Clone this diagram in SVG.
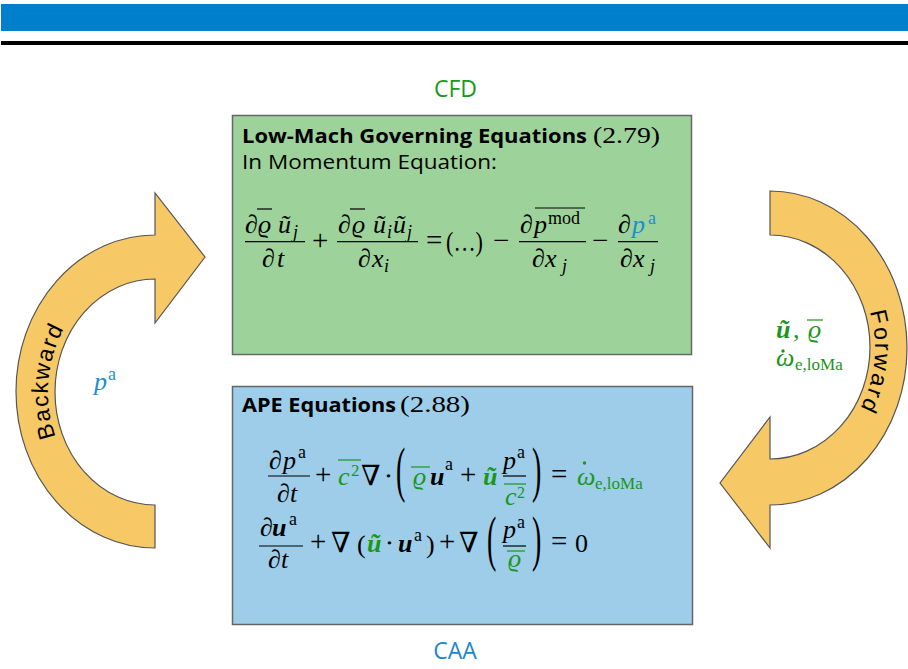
<svg xmlns="http://www.w3.org/2000/svg" width="908" height="669" viewBox="0 0 908 669">
<defs>
<style>
.t{font-family:"Open Sans","Noto Sans",sans-serif;font-size:20px;fill:#000;}
.tb{font-weight:bold;}
.m{font-family:"Liberation Serif","DejaVu Serif",serif;font-style:italic;font-size:26px;fill:#000;}
.rm{font-style:normal;}
.op{font-style:normal;font-size:29px;}
.bi{font-weight:bold;}
.s{font-size:18px;}
.ss{font-size:17px;}
.g{fill:#1A961A;}
.bl{fill:#1B8DD2;}
.bar{stroke:#000;stroke-width:1.2;}
.gbar{stroke:#1A961A;stroke-width:1.2;}
.dot{fill:#1A961A;}
.arr{fill:#F7C866;stroke:#555;stroke-width:1.2;}
.lbl{font-family:"Liberation Sans",Arial,sans-serif;font-size:23px;fill:#000;letter-spacing:1.5px;}
</style>
</defs>

<g id="header">
<rect x="1" y="4" width="907" height="27" fill="#0080CC"/>
<rect x="1" y="41" width="907" height="4" fill="#000"/>
</g>

<g id="cfd-label">
<text class="t" x="455.5" y="97" text-anchor="middle" style="font-size:23px;fill:#1A9A1A">CFD</text>
</g>
<g id="caa-label">
<text class="t" x="455" y="659" text-anchor="middle" style="font-size:23px;fill:#1A88D0">CAA</text>
</g>

<g id="cfd-box">
<rect x="232.5" y="115.5" width="459" height="239" fill="#9DD39B" stroke="#666" stroke-width="1.5"/>
<text class="t tb" x="242" y="143" textLength="345" lengthAdjust="spacingAndGlyphs">Low-Mach Governing Equations</text>
<text class="m rm" x="593" y="143" style="font-size:24px" textLength="67" lengthAdjust="spacingAndGlyphs">(2.79)</text>
<text class="t" x="242" y="169" textLength="255" lengthAdjust="spacingAndGlyphs">In Momentum Equation:</text>
<!-- frac 1 -->
<text class="m" x="245" y="233">∂</text>
<text class="m" x="258" y="233">ϱ</text>
<line class="bar" x1="257" y1="209" x2="272" y2="209"/>
<text class="m" x="278" y="233">ũ</text>
<text class="m s" x="293" y="238">j</text>
<line class="bar" x1="245" y1="241.7" x2="305" y2="241.7"/>
<text class="m" x="262" y="267">∂</text>
<text class="m" x="277" y="267">t</text>
<text class="m op" x="312" y="250">+</text>
<!-- frac 2 -->
<text class="m" x="338" y="233">∂</text>
<text class="m" x="352" y="233">ϱ</text>
<line class="bar" x1="350" y1="209" x2="365" y2="209"/>
<text class="m" x="373" y="233">ũ</text>
<text class="m s" x="387" y="238">i</text>
<text class="m" x="393" y="233">ũ</text>
<text class="m s" x="407" y="238">j</text>
<line class="bar" x1="337" y1="241.7" x2="418" y2="241.7"/>
<text class="m" x="358" y="267">∂</text>
<text class="m" x="372" y="267">x</text>
<text class="m s" x="384" y="272">i</text>
<text class="m op" x="426" y="250">=</text>
<text class="m rm" x="446" y="251" style="font-size:28px" textLength="37" lengthAdjust="spacingAndGlyphs">(…)</text>
<text class="m op" x="493" y="250">−</text>
<!-- frac 3 -->
<text class="m" x="520" y="233">∂</text>
<text class="m" x="534" y="233">p</text>
<text class="m rm s" x="548" y="224">mod</text>
<line class="bar" x1="535" y1="208" x2="585" y2="208"/>
<line class="bar" x1="519" y1="241.7" x2="586" y2="241.7"/>
<text class="m" x="532" y="267">∂</text>
<text class="m" x="545" y="267">x</text>
<text class="m s" x="562" y="272">j</text>
<text class="m op" x="592" y="250">−</text>
<!-- frac 4 -->
<text class="m" x="618" y="233">∂</text>
<text class="m bl" x="632" y="233">p</text>
<text class="m rm s bl" x="648" y="224">a</text>
<line class="bar" x1="618" y1="241.7" x2="658" y2="241.7"/>
<text class="m" x="620" y="267">∂</text>
<text class="m" x="633" y="267">x</text>
<text class="m s" x="650" y="272">j</text>
</g>

<g id="caa-box">
<rect x="232.5" y="386.5" width="460" height="238" fill="#9DCDE9" stroke="#666" stroke-width="1.5"/>
<text class="t tb" x="242" y="412" textLength="154" lengthAdjust="spacingAndGlyphs">APE Equations</text>
<text class="m rm" x="400" y="412" style="font-size:24px" textLength="70" lengthAdjust="spacingAndGlyphs">(2.88)</text>
<!-- eq 1 -->
<text class="m" x="269" y="469">∂</text>
<text class="m" x="283" y="469">p</text>
<text class="m rm s" x="298" y="458">a</text>
<line class="bar" x1="268" y1="476" x2="310" y2="476"/>
<text class="m" x="277" y="502">∂</text>
<text class="m" x="290" y="502">t</text>
<text class="m op" x="315" y="484">+</text>
<text class="m g" x="338" y="485">c</text>
<text class="m rm g" x="351" y="476" style="font-size:17px">2</text>
<line class="gbar" x1="338" y1="460" x2="361" y2="460"/>
<text class="m rm" x="361" y="485" style="font-size:28px">∇</text>
<text class="m rm" x="384" y="485">⋅</text>
<text class="m rm" transform="translate(396,490) scale(1,2.2)" style="font-size:28px">(</text>
<text class="m g" x="413" y="485">ϱ</text>
<line class="gbar" x1="411" y1="467" x2="430" y2="467"/>
<text class="m bi" x="430" y="485">u</text>
<text class="m rm s" x="445" y="470">a</text>
<text class="m op" x="460" y="484">+</text>
<text class="m bi g" x="483" y="485">ũ</text>
<text class="m" x="503" y="469">p</text>
<text class="m rm s" x="517" y="458">a</text>
<line class="bar" x1="503" y1="476" x2="526" y2="476"/>
<text class="m g" x="505" y="505">c</text>
<text class="m rm g" x="517" y="498" style="font-size:16px">2</text>
<line class="gbar" x1="504" y1="484" x2="526" y2="484"/>
<text class="m rm" transform="translate(532,490) scale(1,2.2)" style="font-size:28px">)</text>
<text class="m op" x="551" y="484">=</text>
<text class="m g" x="577" y="485">ω</text>
<circle class="dot" cx="584.5" cy="463" r="1.7"/>
<text class="m rm g ss" x="595" y="489">e,loMa</text>
<!-- eq 2 -->
<text class="m" x="260" y="536">∂</text>
<text class="m bi" x="272" y="536">u</text>
<text class="m rm s" x="289" y="525">a</text>
<line class="bar" x1="259" y1="546" x2="303" y2="546"/>
<text class="m" x="268" y="568">∂</text>
<text class="m" x="281" y="568">t</text>
<text class="m op" x="310" y="551">+</text>
<text class="m rm" x="331" y="552" style="font-size:28px">∇</text>
<text class="m rm" x="357" y="553">(</text>
<text class="m bi g" x="367" y="552">ũ</text>
<text class="m rm" x="385" y="552">⋅</text>
<text class="m bi" x="398" y="552">u</text>
<text class="m rm s" x="414" y="541">a</text>
<text class="m rm" x="426" y="553">)</text>
<text class="m op" x="439" y="551">+</text>
<text class="m rm" x="459" y="552" style="font-size:28px">∇</text>
<text class="m rm" transform="translate(487,559) scale(1,2.2)" style="font-size:28px">(</text>
<text class="m" x="503" y="538">p</text>
<text class="m rm s" x="517" y="528">a</text>
<line class="bar" x1="503" y1="546" x2="526" y2="546"/>
<text class="m g" x="508" y="567">ϱ</text>
<line class="gbar" x1="507" y1="551" x2="525" y2="551"/>
<text class="m rm" transform="translate(532,559) scale(1,2.2)" style="font-size:28px">)</text>
<text class="m op" x="551" y="551">=</text>
<text class="m rm" x="575" y="552">0</text>
</g>

<g id="connectors">
<g id="backward-arrow">
<path class="arr" d="M155,548 A139,156.5 0 0 1 155,235 L155,193 L205,257 L155,323 L155,279 A100,113 0 0 0 155,505 Z"/>
<path id="bwpath" d="M155,513 A107,121 0 0 1 155,271" fill="none"/>
<text class="lbl"><textPath href="#bwpath" startOffset="53%" text-anchor="middle">Backward</textPath></text>
<text class="m bl" x="94" y="390">p</text>
<text class="m rm s bl" x="108" y="380">a</text>
</g>
<g id="forward-arrow">
<path class="arr" d="M770,191 A137,157 0 0 1 770,505 L770,548 L720,483 L770,417 L770,459 A100,112 0 0 0 770,235 Z"/>
<path id="fwpath" d="M770,230 A105,118 0 0 1 770,466" fill="none"/>
<text class="lbl" style="letter-spacing:2.5px"><textPath href="#fwpath" startOffset="54%" text-anchor="middle">Forward</textPath></text>
<text class="m bi g" x="776" y="338">ũ</text>
<text class="m g" x="793" y="338">,</text>
<text class="m g" x="808" y="338">ϱ</text>
<line class="gbar" x1="807" y1="320" x2="823" y2="320"/>
<text class="m g" x="776" y="366">ω</text>
<circle class="dot" cx="783" cy="351" r="1.7"/>
<text class="m rm g ss" x="795" y="370">e,loMa</text>
</g>
</g>
</svg>
